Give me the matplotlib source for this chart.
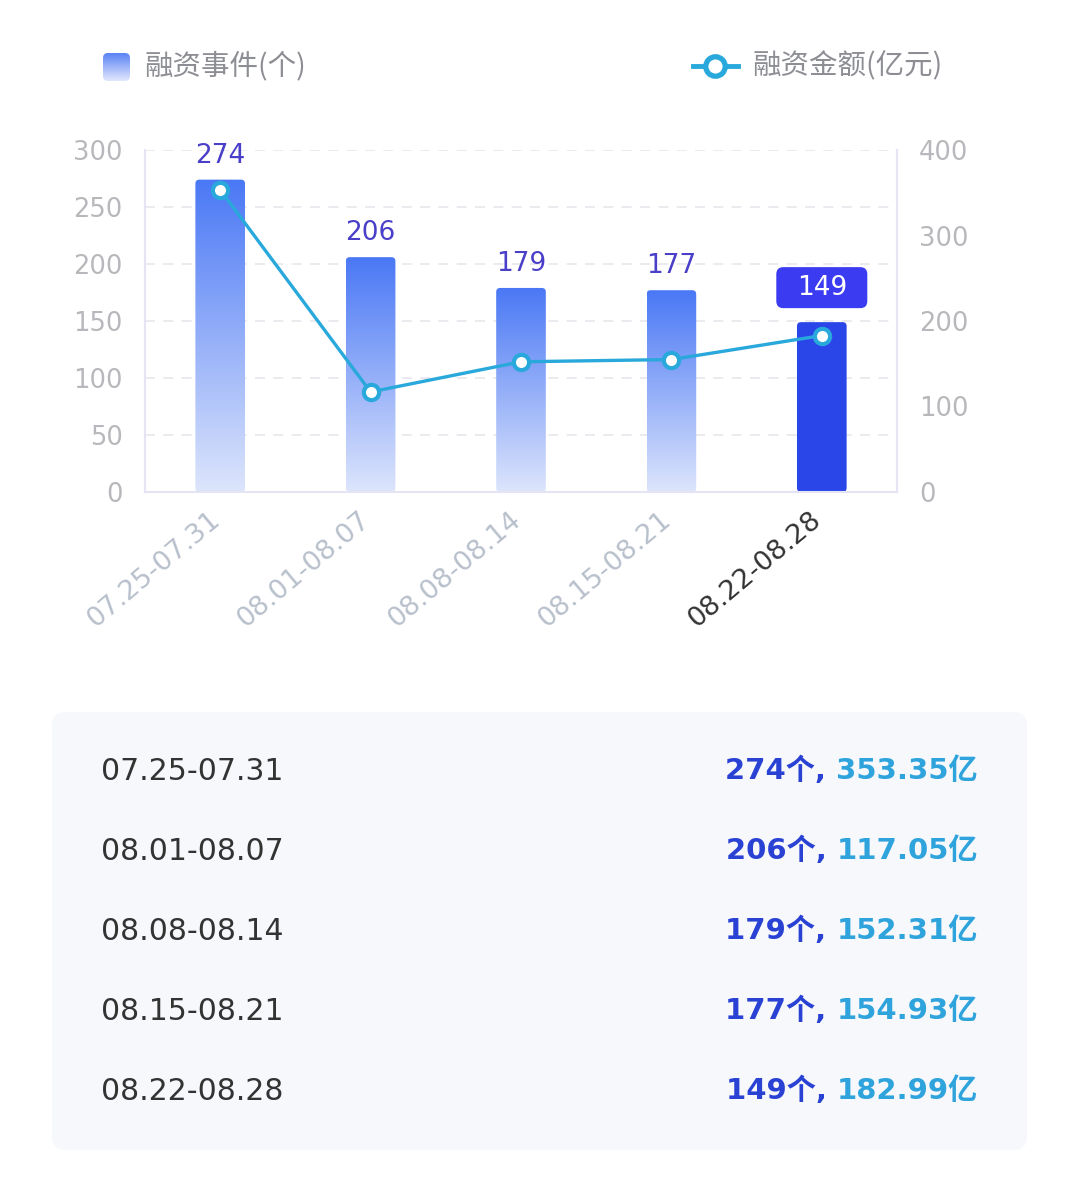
import numpy as np
import matplotlib
matplotlib.use("Agg")
import matplotlib.pyplot as plt
import matplotlib.transforms as mtrans
from matplotlib.colors import LinearSegmentedColormap
from matplotlib.patches import FancyBboxPatch
from matplotlib.lines import Line2D

plt.rcParams['font.family'] = ['DejaVu Sans', 'Noto Sans CJK SC']

# données
weeks = ['07.25-07.31', '08.01-08.07', '08.08-08.14', '08.15-08.21', '08.22-08.28']
counts = [274, 206, 179, 177, 149]
amounts = [353.35, 117.05, 152.31, 154.93, 182.99]
legend_bar = '融资事件(个)'
legend_line = '融资金额(亿元)'

W, H = 1080, 1183
fig = plt.figure(figsize=(W / 100, H / 100), dpi=100)
fig.patch.set_facecolor('white')

# fond en coordonnées pixels
bg = fig.add_axes([0, 0, 1, 1])
bg.set_xlim(0, W)
bg.set_ylim(H, 0)
bg.axis('off')

grad_cmap = LinearSegmentedColormap.from_list('g', ['#dde5fc', '#4a78f5'])
grad = np.linspace(0, 1, 256).reshape(-1, 1)

# légende: carré dégradé
sq = FancyBboxPatch((103, 53), 27, 28, boxstyle='round,pad=0,rounding_size=5',
                    fc='none', ec='none')
bg.add_patch(sq)
im = bg.imshow(grad, extent=[103, 130, 81, 53], aspect='auto', origin='lower',
               cmap=LinearSegmentedColormap.from_list('l', ['#e2e8fd', '#5a82f5']))
im.set_clip_path(sq)
bg.text(145, 66, legend_bar, fontsize=20.5, color='#8c8e94', va='center', ha='left',
        family=['Noto Sans CJK SC', 'DejaVu Sans'])

# légende: ligne
bg.add_line(Line2D([693, 738], [66, 66], color='#29a8dc', lw=3.5))
bg.plot([715], [66], 'o', ms=14, mfc='white', mec='#29a8dc', mew=3.8)
bg.text(752, 66, legend_line, fontsize=20.5, color='#8c8e94', va='center', ha='left',
        family=['Noto Sans CJK SC', 'DejaVu Sans'])

# tableau
bg.add_patch(FancyBboxPatch((52, 712), 975, 438, boxstyle='round,pad=0,rounding_size=14',
                            fc='#f6f8fc', ec='none'))
bg.set_xlim(0, W)
bg.set_ylim(H, 0)

# graphique principal
ax = fig.add_axes([145 / W, 1 - 492 / H, (897 - 145) / W, (492 - 150) / H])
ax.set_facecolor('none')
x = np.arange(len(weeks))
bw = 0.33
ax.set_xlim(-0.5, len(weeks) - 0.5)
ax.set_ylim(0, 300)

last = len(counts) - 1
for i, c in enumerate(counts):
    patch = FancyBboxPatch((x[i] - bw / 2, 0), bw, c,
                           boxstyle='round,pad=0,rounding_size=0.027',
                           mutation_aspect=130, ec='none',
                           fc='#2a45e8' if i == last else 'none', zorder=2)
    ax.add_patch(patch)
    if i < last:
        g = ax.imshow(grad, extent=[x[i] - bw / 2, x[i] + bw / 2, 0, c], aspect='auto',
                      origin='lower', cmap=grad_cmap, zorder=2)
        g.set_clip_path(patch)
        ax.annotate(str(c), (x[i], c), xytext=(0, 8), textcoords='offset points',
                    ha='center', va='bottom', fontsize=19, color='#4a3fc8')

ax.set_xlim(-0.5, len(weeks) - 0.5)
ax.set_ylim(0, 300)
ax.set_yticks(range(0, 301, 50))
ax.yaxis.grid(True, ls=(0, (6, 5)), color='#e6e6ec', lw=1.2)
ax.set_axisbelow(True)
for s in ['left', 'bottom', 'right']:
    ax.spines[s].set_color('#e4e4f4')
    ax.spines[s].set_linewidth(1.5)
ax.spines['top'].set_visible(False)
ax.tick_params(axis='y', length=0, pad=16, labelsize=18.5, labelcolor='#b8b8bc')
ax.tick_params(axis='x', length=0, pad=8)
ax.set_xticks(x)
ax.set_xticklabels(weeks, rotation=40, ha='right', va='top', rotation_mode='anchor',
                   fontsize=19.5)
shift = mtrans.ScaledTranslation(-12 / 100, -4 / 100, fig.dpi_scale_trans)
for i, lab in enumerate(ax.get_xticklabels()):
    lab.set_color('#333333' if i == last else '#b8c0cc')
    lab.set_transform(lab.get_transform() + shift)

ax2 = ax.twinx()
ax2.set_ylim(0, 400)
ax2.set_yticks(range(0, 401, 100))
ax2.tick_params(axis='y', length=0, pad=16, labelsize=18.5, labelcolor='#b8b8bc')
for s in ax2.spines.values():
    s.set_visible(False)
ax2.plot(x, amounts, color='#29a8dc', lw=2.4, marker='o', ms=11, mfc='white',
         mec='#29a8dc', mew=3, zorder=5)
ax2.set_xlim(-0.5, len(weeks) - 0.5)

# étiquette encadrée de la dernière barre
px, py = ax.transData.transform((x[last], counts[last]))
py = H - py
bg.add_patch(FancyBboxPatch((px - 45.5, py - 55), 91, 41,
                            boxstyle='round,pad=0,rounding_size=7',
                            fc='#3b3bf2', ec='none', zorder=6))
bg.text(px, py - 34.5, str(counts[last]), fontsize=19, color='white',
        ha='center', va='center', zorder=7)

# lignes du tableau
rows_y = [771, 851, 931, 1011, 1091]
fig.canvas.draw()
renderer = fig.canvas.get_renderer()
for i, yy in enumerate(rows_y):
    bg.text(101, yy, weeks[i], fontsize=21.5, color='#333333', va='center', ha='left')
    t2 = bg.text(978, yy, '%.2f亿' % amounts[i], fontsize=21, fontweight='bold',
                 color='#2ea3dc', va='center', ha='right')
    bb = t2.get_window_extent(renderer)
    bg.text(bb.x0, yy, '%d个, ' % counts[i], fontsize=21, fontweight='bold',
            color='#2a42d4', va='center', ha='right',
            transform=mtrans.blended_transform_factory(
                mtrans.IdentityTransform(), bg.transData))

fig.savefig('out.png', dpi=100)
